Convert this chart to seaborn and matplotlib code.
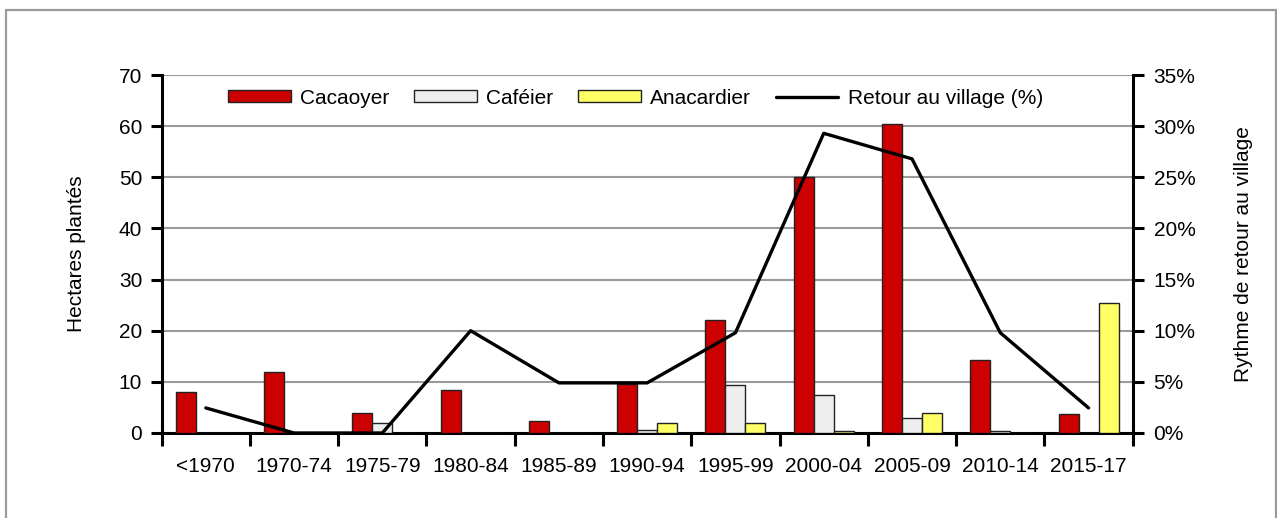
import numpy as np
import pandas as pd
import matplotlib
matplotlib.use("Agg")
import matplotlib.pyplot as plt
import seaborn as sns
from matplotlib.patches import Rectangle
from matplotlib.ticker import FuncFormatter

categories = ["<1970", "1970-74", "1975-79", "1980-84", "1985-89", "1990-94",
              "1995-99", "2000-04", "2005-09", "2010-14", "2015-17"]
cacaoyer = [8.0, 12.0, 4.0, 8.4, 2.4, 9.6, 22.0, 50.1, 60.5, 14.2, 3.7]
cafeier = [0.0, 0.0, 2.0, 0.0, 0.0, 0.5, 9.4, 7.4, 2.9, 0.45, 0.0]
anacardier = [0.0, 0.0, 0.0, 0.0, 0.0, 2.0, 2.0, 0.45, 4.0, 0.0, 25.5]
retour = [2.45, 0.0, 0.0, 10.0, 4.9, 4.9, 9.8, 29.3, 26.8, 9.8, 2.45]
series_names = ["Cacaoyer", "Caféier", "Anacardier"]
line_name = "Retour au village (%)"
y_ticks = [0, 10, 20, 30, 40, 50, 60, 70]
y2_ticks = [0, 5, 10, 15, 20, 25, 30, 35]

sns.set_style("white")
plt.rcParams["font.family"] = ["Liberation Sans", "DejaVu Sans"]
plt.rcParams["text.color"] = "black"
plt.rcParams["axes.labelcolor"] = "black"
plt.rcParams["xtick.color"] = "black"
plt.rcParams["ytick.color"] = "black"
FS = 15

df = pd.DataFrame({
    "Période": categories * 3,
    "Culture": sum([[n] * len(categories) for n in series_names], []),
    "Hectares": cacaoyer + cafeier + anacardier,
})

fig = plt.figure(figsize=(12.77, 5.18), dpi=100)
ax = fig.add_axes([0.1266, 0.1641, 0.887 - 0.1266, 0.8552 - 0.1641])

palette = ["#CC0000", "#EEEEEE", "#FFFF66"]
sns.barplot(data=df, x="Période", y="Hectares", hue="Culture", order=categories,
            hue_order=series_names, palette=palette, width=0.68, saturation=1,
            edgecolor="#222222", linewidth=1.0, ax=ax, legend=True, zorder=3)
bar_h, bar_l = ax.get_legend_handles_labels()
ax.get_legend().remove()

ax.set_xlim(-0.5, len(categories) - 0.5)
ax.set_ylim(0, 70)
ax.set_yticks(y_ticks)
ax.yaxis.grid(True, color="#9a9a9a", linewidth=1.5, zorder=0)
ax.set_axisbelow(True)
ax.set_xticks(np.arange(len(categories) + 1) - 0.5)
ax.set_xticklabels([])
ax.set_xticks(np.arange(len(categories)), minor=True)
ax.set_xticklabels(categories, minor=True, fontsize=FS)
ax.tick_params(axis="x", which="major", direction="out", length=9, width=2.2, color="black", bottom=True)
ax.tick_params(axis="x", which="minor", length=0, pad=17)
ax.tick_params(axis="y", direction="out", length=8, width=2.2, color="black", left=True, labelsize=FS, pad=6)
ax.set_xlabel("")
ax.set_ylabel("Hectares plantés", fontsize=FS, labelpad=24)
for s in ["left", "bottom"]:
    ax.spines[s].set_linewidth(2.2)
    ax.spines[s].set_color("black")
ax.spines["top"].set_visible(False)
ax.spines["right"].set_visible(False)

ax2 = ax.twinx()
x_idx = np.arange(len(categories))
sns.lineplot(x=x_idx, y=retour, color="black", linewidth=2.4, ax=ax2, label=line_name, zorder=4)
line_h, line_l = ax2.get_legend_handles_labels()
if ax2.get_legend() is not None:
    ax2.get_legend().remove()
ax2.set_ylim(0, 35)
ax2.set_yticks(y2_ticks)
ax2.yaxis.set_major_formatter(FuncFormatter(lambda v, p: f"{v:.0f}%"))
ax2.tick_params(axis="y", direction="out", length=8, width=2.2, color="black", right=True, labelsize=FS, pad=7)
ax2.set_ylabel("Rythme de retour au village", fontsize=FS, labelpad=28)
for s in ["top", "left", "bottom"]:
    ax2.spines[s].set_visible(False)
ax2.spines["right"].set_linewidth(2.2)
ax2.spines["right"].set_color("black")
ax2.grid(False)

leg = ax2.legend(bar_h + line_h, bar_l + line_l, loc="upper center",
                 bbox_to_anchor=(0.488, 1.0), ncol=4, frameon=False, fontsize=FS,
                 handlelength=3.0, handleheight=0.55, columnspacing=1.2, handletextpad=0.45,
                 borderaxespad=0.25)

fig.patches.append(Rectangle((6 / 1277, -0.02), 1270 / 1277, 1 - 10 / 518 + 0.02,
                             transform=fig.transFigure, fill=False,
                             edgecolor="#9a9a9a", linewidth=1.6))

fig.savefig("out.png", dpi=100, facecolor="white")
